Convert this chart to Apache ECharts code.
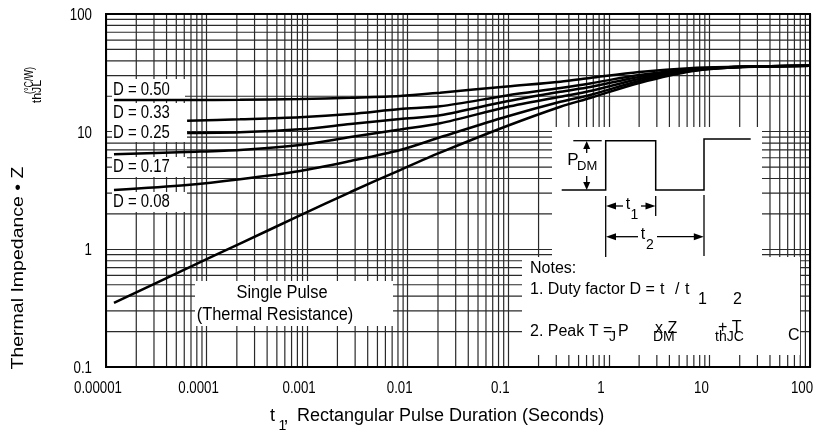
<!DOCTYPE html>
<html><head><meta charset="utf-8">
<script src="https://cdn.jsdelivr.net/npm/echarts@6/dist/echarts.min.js"></script>
<style>html,body{margin:0;padding:0;background:#fff}#c{width:817px;height:430px}</style>
</head><body><div id="c"></div>
<script>
// ---- data ----
const pulseDuration = [1.2e-5, 6.4e-5, 2.15e-4, 8.5e-4, 2.7e-3, 8.4e-3, 0.021, 0.097, 0.33, 0.65, 2.0, 6.9, 21.6, 100];
const zD050   = [18.6, 18.6, 18.65, 18.95, 19.44, 20.10, 21.44, 24.21, 26.59, 28.58, 32.15, 34.76, 35.66, 36.36];
const zD033   = [null, 12.40, 12.74, 13.25, 14.13, 15.58, 16.43, 20.29, 23.50, 25.67, 30.31, 34.09, 35.66, 36.36];
const zD025   = [null, 9.74, 9.88, 10.47, 11.62, 12.81, 13.78, 18.12, 21.86, 23.97, 29.15, 33.75, 35.66, 36.36];
const zD017   = [6.42, 6.72, 6.99, 7.70, 9.01, 10.43, 11.78, 16.20, 19.83, 22.16, 28.03, 33.43, 35.60, 36.36];
const zD008   = [3.19, 3.52, 3.94, 4.63, 5.63, 6.99, 8.96, 13.46, 17.97, 20.49, 26.96, 33.10, 35.45, 36.36];
const zSingle = [0.350, 0.69, 1.12, 1.94, 3.07, 4.72, 6.63, 11.17, 16.30, 19.33, 25.92, 32.78, 35.45, 36.36];
const xTickValues = [0.00001, 0.0001, 0.001, 0.01, 0.1, 1, 10, 100];
const xTickLabels = ['0.00001', '0.0001', '0.001', '0.01', '0.1', '1', '10', '100'];
const yTickValues = [0.1, 1, 10, 100];
const yTickLabels = ['0.1', '1', '10', '100'];
const curveLabels = ['D = 0.50', 'D = 0.33', 'D = 0.25', 'D = 0.17', 'D = 0.08'];

const REG = "'Liberation Sans',Arial,sans-serif";
const NARROW_SCALE = 0.83;

function pairs(ys) { return pulseDuration.map((t, i) => [t, ys[i]]); }

// minor grid values (style only, not data)
const xMinor = [], yMinor = [];
for (let e = -5; e <= 1; e++) for (let m = 2; m <= 9; m++) xMinor.push(m * Math.pow(10, e));
for (let e = -1; e <= 1; e++) for (let m = 2; m <= 9; m++) yMinor.push(m * Math.pow(10, e));

const chart = echarts.init(document.getElementById('c'), null, {renderer: 'canvas'});

function curve(name, ys) {
  return {
    name, type: 'line', data: pairs(ys), z: 8, symbol: 'none', smooth: 0.3,
    connectNulls: false, lineStyle: {color: '#000', width: 2.5}, animation: false, silent: true
  };
}
const gridLineStyle = {color: '#2a2a2a', width: 1.2, type: 'solid'};
function gridSeries(pts) {
  return {type: 'line', data: pts, z: 1, symbol: 'none', silent: true, animation: false,
          lineStyle: gridLineStyle, tooltip: {show: false}};
}

function txt(text, x, y, size, opts) {
  opts = opts || {};
  return {
    type: 'text', x, y, z: 9, z2: 10, rotation: opts.rotation || 0,
    scaleX: opts.scaleX || 1, scaleY: opts.scaleY || 1,
    style: {
      text, fontSize: size, fontFamily: REG, fill: '#000',
      align: opts.align || 'left', textAlign: opts.align || 'left',
      verticalAlign: 'middle', textVerticalAlign: 'middle'
    }
  };
}
function rect(x, y, w, h) {
  return {type: 'rect', z: 4, z2: 1, shape: {x: x, y: y, width: w, height: h}, style: {fill: '#ffffff'}};
}
function seg(x1, y1, x2, y2, w) {
  return {type: 'line', z: 9, z2: 10, shape: {x1, y1, x2, y2}, style: {stroke: '#000', lineWidth: w || 1.3}};
}
function tri(pts) {
  return {type: 'polygon', z: 9, z2: 10, shape: {points: pts}, style: {fill: '#000'}};
}
const N = {scaleX: NARROW_SCALE};
const graphics = [
  // label boxes
  rect(112, 79, 73, 20), rect(112, 103, 75, 21), rect(112, 124, 75, 18),
  rect(112, 157, 75, 20), rect(112, 192, 75, 20),
  rect(195, 281, 198, 45),
  rect(552, 127, 210, 130),
  rect(522, 257, 278, 98),
  // curve labels
  txt(curveLabels[0], 113, 89.7, 18, N), txt(curveLabels[1], 113, 113.3, 18, N),
  txt(curveLabels[2], 113, 133, 18, N), txt(curveLabels[3], 113, 167.5, 18, N),
  txt(curveLabels[4], 113, 202, 18, N),
  txt('Single Pulse', 282, 292.7, 18, {align: 'center', scaleX: 0.91}),
  txt('(Thermal Resistance)', 275, 315, 18, {align: 'center', scaleX: 0.91}),
  // pulse diagram
  {type: 'polyline', z: 9, z2: 10, shape: {points: [[561.7,190],[605.7,190],[605.7,140.7],[655.7,140.7],[655.7,190],[704,190],[704,139],[750.7,139]]},
   style: {stroke: '#000', lineWidth: 1.5, fill: null}},
  seg(573.3, 140.7, 601.7, 140.7),
  tri([[586.7,141],[583.2,149],[590.2,149]]), seg(586.7, 148, 586.7, 153),
  tri([[586.7,190],[583.2,182],[590.2,182]]), seg(586.7, 176, 586.7, 183),
  txt('P', 573, 160, 17, {align: 'center'}), txt('DM', 577, 166.5, 13),
  seg(605.7, 196, 605.7, 257), seg(655.7, 196, 655.7, 216), seg(704, 195, 704, 256),
  tri([[606,206],[616,202.5],[616,209.5]]), seg(615, 206, 623, 206),
  txt('t', 628, 205, 16, {align: 'center'}), txt('1', 634.5, 215, 14, {align: 'center'}),
  seg(641, 206, 647, 206), tri([[655.5,206],[645.5,202.5],[645.5,209.5]]),
  tri([[606,236.7],[616,233.2],[616,240.2]]), seg(615, 236.7, 638, 236.7),
  txt('t', 643, 235, 16, {align: 'center'}), txt('2', 650, 245, 14, {align: 'center'}),
  seg(657, 236.7, 695, 236.7), tri([[703.8,236.7],[693.8,233.2],[693.8,240.2]]),
  // notes
  txt('Notes:', 530, 268.3, 16),
  txt('1. Duty factor D =', 530, 290, 16),
  txt('t', 660, 290, 16), txt('/', 675, 290, 16), txt('t', 685, 290, 16),
  txt('1', 698, 300, 16), txt('2', 733, 300, 16),
  txt('2. Peak T', 530, 332, 16),
  txt('=', 603, 331, 16), txt('J', 609, 337, 14), txt('P', 618, 332, 16),
  txt('x Z', 655, 329, 16), txt('DM', 653, 337, 14),
  txt('+ T', 718, 328, 16), txt('thJC', 715, 337, 14),
  txt('C', 788, 336, 16),
  // axis titles
  txt('t', 270, 416.5, 18), txt('1', 278.5, 426, 14), txt(',', 283.5, 417, 18),
  txt('Rectangular Pulse Duration (Seconds)', 297, 416.5, 18),
  txt('Thermal Impedance \u2022 Z', 18, 268, 19.5, {align: 'center', rotation: Math.PI / 2, scaleY: 0.85}),
  txt('(\u00B0C/W)', 29.7, 80.5, 12, {align: 'center', rotation: Math.PI / 2, scaleX: 0.75}),
  txt('thJL', 37.5, 91.5, 12.5, {align: 'center', rotation: Math.PI / 2})
];

const series = [];
xMinor.forEach(v => series.push(gridSeries([[v, 0.1], [v, 100]])));
yMinor.forEach(v => series.push(gridSeries([[0.00001, v], [100, v]])));
series.push(curve('D = 0.50', zD050), curve('D = 0.33', zD033), curve('D = 0.25', zD025),
            curve('D = 0.17', zD017), curve('D = 0.08', zD008), curve('Single Pulse', zSingle));

chart.setOption({
  animation: false,
  backgroundColor: '#fff',
  grid: {left: 106, right: 7, top: 14, bottom: 63, show: true, borderColor: '#000', borderWidth: 2, backgroundColor: 'transparent', z: 10},
  xAxis: {
    type: 'log', logBase: 10, min: 0.00001, max: 100,
    axisLine: {show: false}, axisTick: {show: false}, axisLabel: {show: false},
    splitLine: {show: true, lineStyle: gridLineStyle}
  },
  yAxis: {
    type: 'log', logBase: 10, min: 0.1, max: 100,
    axisLine: {show: false}, axisTick: {show: false}, axisLabel: {show: false},
    splitLine: {show: true, lineStyle: gridLineStyle}
  },
  series
});

// tick labels placed through the library's own axis scales
xTickValues.forEach((v, i) => {
  const px = chart.convertToPixel({xAxisIndex: 0}, v);
  graphics.push(txt(xTickLabels[i], px - 8, 388.5, 16, {align: 'center', scaleX: NARROW_SCALE}));
});
yTickValues.forEach((v, i) => {
  const py = chart.convertToPixel({yAxisIndex: 0}, v);
  graphics.push(txt(yTickLabels[i], 92, py + 1.5, 16, {align: 'right', scaleX: NARROW_SCALE}));
});

chart.setOption({graphic: {z: 4, elements: graphics}});
</script>
</body></html>
